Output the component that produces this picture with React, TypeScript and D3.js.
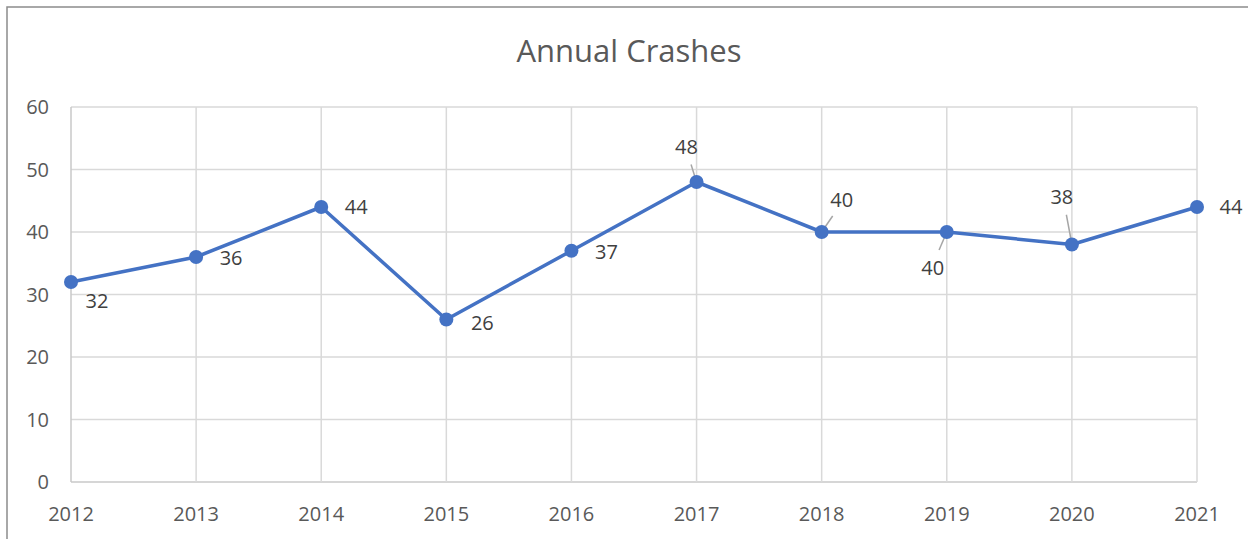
import { useEffect, useRef } from 'react'
import * as d3 from 'd3'

const years = ['2012', '2013', '2014', '2015', '2016', '2017', '2018', '2019', '2020', '2021']
const crashes = [32, 36, 44, 26, 37, 48, 40, 40, 38, 44]
const yTicks = [0, 10, 20, 30, 40, 50, 60]

// label placement relative to the point: [dx, dy, leader]
const labelPos: [number, number, boolean][] = [
  [26, 19, false],
  [35, 1, false],
  [35, 0, false],
  [36, 3, false],
  [35, 1, false],
  [-10, -35, true],
  [20, -32, true],
  [-14, 36, true],
  [-10, -48, true],
  [34, 0, false],
]

export default () => {
  const rootRef = useRef<SVGSVGElement>(null)

  useEffect(() => {
    const W = 1248,
      H = 539
    const margin = { top: 107, right: 51, bottom: 57, left: 71 }
    const width = W - margin.left - margin.right,
      height = H - margin.top - margin.bottom
    const font = 'Open Sans, sans-serif'

    const svg = d3.select(rootRef.current).attr('width', W).attr('height', H)
    svg.selectAll('*').remove()

    // outer chart border
    svg
      .append('rect')
      .attr('x', 7)
      .attr('y', 7)
      .attr('width', W + 20)
      .attr('height', H + 20)
      .attr('fill', '#fff')
      .attr('stroke', '#8c8c8c')
      .attr('stroke-width', 1.5)

    svg
      .append('text')
      .attr('x', 629)
      .attr('y', 62)
      .attr('text-anchor', 'middle')
      .style('font-family', font)
      .style('font-size', '31px')
      .style('fill', '#595959')
      .text('Annual Crashes')

    const g = svg.append('g').attr('transform', `translate(${margin.left},${margin.top})`)

    const x = d3.scalePoint<string>().domain(years).range([0, width])
    const y = d3.scaleLinear().domain([0, 60]).range([height, 0])

    // horizontal gridlines
    g.selectAll('line.hgrid')
      .data(yTicks)
      .join('line')
      .attr('class', 'hgrid')
      .attr('x1', 0)
      .attr('x2', width)
      .attr('y1', (d) => y(d))
      .attr('y2', (d) => y(d))
      .attr('stroke', (d) => (d === 0 ? '#c8c8c8' : '#d9d9d9'))
      .attr('stroke-width', 1.5)

    // vertical gridlines
    g.selectAll('line.vgrid')
      .data(years)
      .join('line')
      .attr('class', 'vgrid')
      .attr('x1', (d) => x(d)!)
      .attr('x2', (d) => x(d)!)
      .attr('y1', 0)
      .attr('y2', height)
      .attr('stroke', (d, i) => (i === 0 ? '#c8c8c8' : '#d9d9d9'))
      .attr('stroke-width', 1.5)

    g.selectAll('text.ytick')
      .data(yTicks)
      .join('text')
      .attr('class', 'ytick')
      .attr('x', -22)
      .attr('y', (d) => y(d))
      .attr('dy', '0.35em')
      .attr('text-anchor', 'end')
      .style('font-family', font)
      .style('font-size', '20px')
      .style('fill', '#595959')
      .text((d) => d)

    g.selectAll('text.xtick')
      .data(years)
      .join('text')
      .attr('class', 'xtick')
      .attr('x', (d) => x(d)!)
      .attr('y', height + 32)
      .attr('dy', '0.35em')
      .attr('text-anchor', 'middle')
      .style('font-family', font)
      .style('font-size', '20px')
      .style('fill', '#595959')
      .text((d) => d)

    const pts = years.map((yr, i) => ({ yr, v: crashes[i], i }))

    g.append('path')
      .datum(pts)
      .attr('fill', 'none')
      .attr('stroke', '#4472c4')
      .attr('stroke-width', 3.5)
      .attr('stroke-linejoin', 'round')
      .attr(
        'd',
        d3
          .line<(typeof pts)[number]>()
          .x((d) => x(d.yr)!)
          .y((d) => y(d.v))
      )

    // leader lines
    g.selectAll('line.leader')
      .data(pts.filter((d) => labelPos[d.i][2]))
      .join('line')
      .attr('class', 'leader')
      .attr('x1', (d) => x(d.yr)!)
      .attr('y1', (d) => y(d.v))
      .attr('x2', (d) => x(d.yr)! + labelPos[d.i][0] * 0.55)
      .attr('y2', (d) => y(d.v) + labelPos[d.i][1] * (d.i === 8 ? 0.62 : 0.5))
      .attr('stroke', '#a6a6a6')
      .attr('stroke-width', 1.5)

    g.selectAll('circle')
      .data(pts)
      .join('circle')
      .attr('cx', (d) => x(d.yr)!)
      .attr('cy', (d) => y(d.v))
      .attr('r', 7)
      .attr('fill', '#4472c4')

    g.selectAll('text.dlabel')
      .data(pts)
      .join('text')
      .attr('class', 'dlabel')
      .attr('x', (d) => x(d.yr)! + labelPos[d.i][0])
      .attr('y', (d) => y(d.v) + labelPos[d.i][1])
      .attr('dy', '0.35em')
      .attr('text-anchor', 'middle')
      .style('font-family', font)
      .style('font-size', '20px')
      .style('fill', '#404040')
      .text((d) => d.v)
  }, [])

  return <svg ref={rootRef} style={{ display: 'block', position: 'absolute', left: 0, top: 0 }}></svg>
}
